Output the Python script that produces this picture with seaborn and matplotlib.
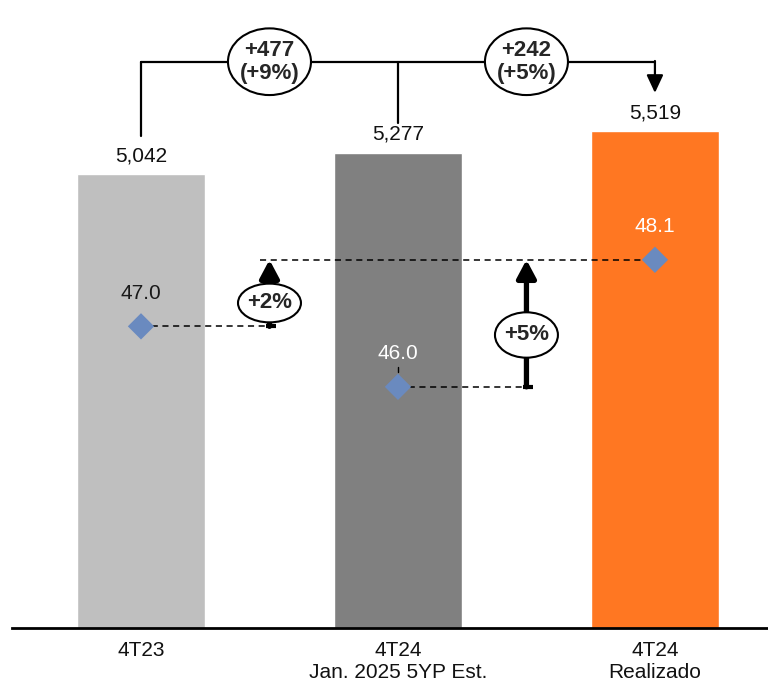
import numpy as np
import matplotlib
matplotlib.use("Agg")
import matplotlib.pyplot as plt
from matplotlib.patches import Ellipse
import seaborn as sns

# Data
categories = ["4T23", "4T24\nJan. 2025 5YP Est.", "4T24\nRealizado"]
bar_values = [5042, 5277, 5519]
bar_labels = ["5,042", "5,277", "5,519"]
bar_colors = ["#BFBFBF", "#808080", "#FF7722"]
point_values = [47.0, 46.0, 48.1]
point_labels = ["47.0", "46.0", "48.1"]
point_label_colors = ["#1a1a1a", "white", "white"]
change_labels = ["+477\n(+9%)", "+242\n(+5%)"]
pct_labels = ["+2%", "+5%"]

sns.set_theme(style="white")
plt.rcParams["font.family"] = ["Liberation Sans", "DejaVu Sans"]

fig = plt.figure(figsize=(7.68, 6.87), dpi=100)
ax = fig.add_axes([12 / 768, 59 / 687, 756 / 768, 628 / 687])

sns.barplot(x=categories, y=bar_values, hue=categories, palette=bar_colors,
            width=0.5, saturation=1, legend=False, ax=ax, zorder=1)
ax.set_xlim(-0.502, 2.44)
ax.set_ylim(0, 6970)
ax.set_xlabel("")
ax.set_ylabel("")
ax.set_yticks([])
ax.tick_params(axis="x", length=0, pad=9, labelsize=15, labelcolor="#111111")
for s in ["top", "right", "left"]:
    ax.spines[s].set_visible(False)
ax.spines["bottom"].set_color("black")
ax.spines["bottom"].set_linewidth(2)

# bar value labels
for i, (v, lab) in enumerate(zip(bar_values, bar_labels)):
    ax.annotate(lab, (i, v), xytext=(0, 13), textcoords="offset points",
                ha="center", va="center", fontsize=15, color="#111111")

# top bracket
bracket_y = 6285
gaps = [420, 330, 420]
ax.plot([0, 0], [bar_values[0] + gaps[0], bracket_y], color="black", lw=1.6)
ax.plot([1, 1], [bar_values[1] + gaps[1], bracket_y], color="black", lw=1.6)
ax.plot([0, 2], [bracket_y, bracket_y], color="black", lw=1.6)
ax.annotate("", xy=(2, bar_values[2] + gaps[2]), xytext=(2, bracket_y + 8),
            arrowprops=dict(arrowstyle="-|>,head_width=0.42,head_length=0.9",
                            color="black", lw=1.6, shrinkA=0, shrinkB=0))
for xc, lab in zip([0.5, 1.5], change_labels):
    ax.add_patch(Ellipse((xc, bracket_y), 0.323, 740, facecolor="white",
                         edgecolor="black", lw=1.5, zorder=3))
    ax.text(xc, bracket_y, lab, ha="center", va="center", fontsize=16,
            fontweight="bold", linespacing=1.1, zorder=4)

# secondary axis with diamonds
ax2 = ax.twinx()
ax2.set_ylim(42.014, 52.394)
ax2.set_yticks([])
for s in ["top", "right", "left", "bottom"]:
    ax2.spines[s].set_visible(False)

dash = dict(color="black", lw=1.1, linestyle=(0, (4, 3)), zorder=2)
ax2.plot([0, 0.525], [point_values[0], point_values[0]], **dash)
ax2.plot([1, 1.525], [point_values[1], point_values[1]], **dash)
ax2.plot([0.463, 2], [point_values[2], point_values[2]], **dash)

sns.scatterplot(x=[0, 1, 2], y=point_values, marker="D", s=180,
                color="#6A8ABF", edgecolor="none", ax=ax2, zorder=5)
ax2.set_xlim(-0.502, 2.44)
ax2.set_ylabel("")

for i, (v, lab, c) in enumerate(zip(point_values, point_labels, point_label_colors)):
    ax2.annotate(lab, (i, v), xytext=(0, 24), textcoords="offset points",
                 ha="center", va="center", fontsize=15, color=c, zorder=6)
# small leader tick under the 46.0 label
ax2.plot([1, 1], [point_values[1] + 0.25, point_values[1] + 0.33], color="black", lw=1)

# growth arrows between points
for xc, start, cy, eh, lab in zip([0.5, 1.5], point_values[:2], [47.386, 46.857],
                                   [0.64, 0.75], pct_labels):
    ax2.annotate("", xy=(xc, point_values[2]), xytext=(xc, start),
                 arrowprops=dict(arrowstyle="-|>,head_width=0.48,head_length=0.9",
                                 color="black", lw=3.8, shrinkA=0, shrinkB=0),
                 zorder=3)
    ax2.plot([xc - 0.015, xc + 0.025], [start, start], color="black", lw=3, zorder=3,
             solid_capstyle="butt")
    ax2.add_patch(Ellipse((xc, cy), 0.245, eh, facecolor="white",
                          edgecolor="black", lw=1.5, zorder=4))
    ax2.text(xc, cy, lab, ha="center", va="center", fontsize=16,
             fontweight="bold", zorder=5)

fig.savefig("out.png", dpi=100)
